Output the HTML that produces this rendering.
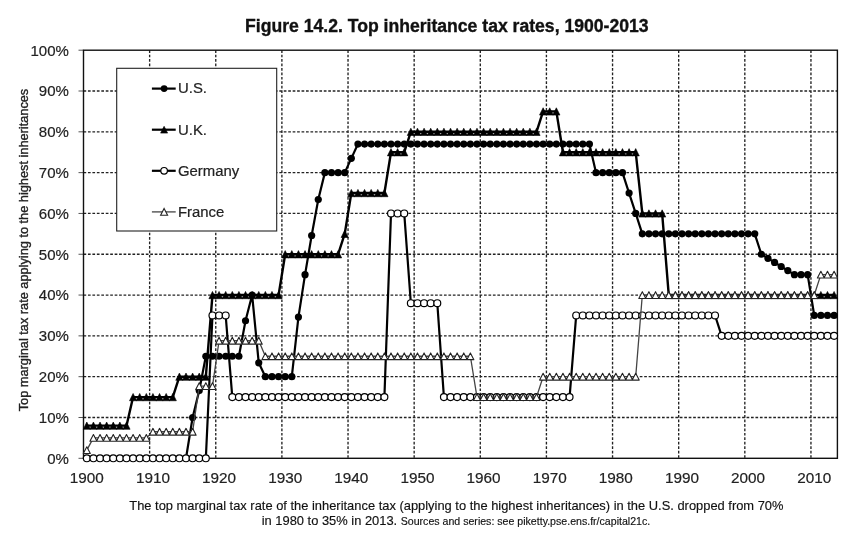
<!DOCTYPE html><html><head><meta charset="utf-8"><style>html,body{margin:0;padding:0;background:#fff;width:861px;height:540px;overflow:hidden}svg{display:block;filter:blur(0.3px)}text{font-family:"Liberation Sans",sans-serif}</style></head><body>
<svg width="861" height="540" viewBox="0 0 861 540">
<rect width="861" height="540" fill="#fff"/>
<text x="446.8" y="31.8" text-anchor="middle" font-size="17.6" font-weight="bold" fill="#111" stroke="#111" stroke-width="0.35">Figure 14.2. Top inheritance tax rates, 1900-2013</text>
<path d="M83.50 417.49H837.40 M83.50 376.68H837.40 M83.50 335.87H837.40 M83.50 295.06H837.40 M83.50 254.25H837.40 M83.50 213.44H837.40 M83.50 172.63H837.40 M83.50 131.82H837.40 M83.50 91.01H837.40 M149.63 50.20V458.30 M215.76 50.20V458.30 M281.89 50.20V458.30 M348.03 50.20V458.30 M414.16 50.20V458.30 M480.29 50.20V458.30 M546.42 50.20V458.30 M612.55 50.20V458.30 M678.68 50.20V458.30 M744.82 50.20V458.30 M810.95 50.20V458.30" stroke="#222" stroke-width="1.35" stroke-dasharray="2.7 1.75" fill="none"/>
<path d="M78.5 458.30H83.50 M78.5 417.49H83.50 M78.5 376.68H83.50 M78.5 335.87H83.50 M78.5 295.06H83.50 M78.5 254.25H83.50 M78.5 213.44H83.50 M78.5 172.63H83.50 M78.5 131.82H83.50 M78.5 91.01H83.50 M78.5 50.20H83.50" stroke="#555" stroke-width="1" fill="none"/>
<rect x="83.50" y="50.20" width="753.90" height="408.10" fill="none" stroke="#111" stroke-width="1.4"/>
<text x="68.9" y="463.70" text-anchor="end" font-size="15" fill="#222" stroke="#222" stroke-width="0.2">0%</text>
<text x="68.9" y="422.89" text-anchor="end" font-size="15" fill="#222" stroke="#222" stroke-width="0.2">10%</text>
<text x="68.9" y="382.08" text-anchor="end" font-size="15" fill="#222" stroke="#222" stroke-width="0.2">20%</text>
<text x="68.9" y="341.27" text-anchor="end" font-size="15" fill="#222" stroke="#222" stroke-width="0.2">30%</text>
<text x="68.9" y="300.46" text-anchor="end" font-size="15" fill="#222" stroke="#222" stroke-width="0.2">40%</text>
<text x="68.9" y="259.65" text-anchor="end" font-size="15" fill="#222" stroke="#222" stroke-width="0.2">50%</text>
<text x="68.9" y="218.84" text-anchor="end" font-size="15" fill="#222" stroke="#222" stroke-width="0.2">60%</text>
<text x="68.9" y="178.03" text-anchor="end" font-size="15" fill="#222" stroke="#222" stroke-width="0.2">70%</text>
<text x="68.9" y="137.22" text-anchor="end" font-size="15" fill="#222" stroke="#222" stroke-width="0.2">80%</text>
<text x="68.9" y="96.41" text-anchor="end" font-size="15" fill="#222" stroke="#222" stroke-width="0.2">90%</text>
<text x="68.9" y="55.60" text-anchor="end" font-size="15" fill="#222" stroke="#222" stroke-width="0.2">100%</text>
<text x="86.81" y="483.2" text-anchor="middle" font-size="15.3" fill="#222" stroke="#222" stroke-width="0.2">1900</text>
<text x="152.94" y="483.2" text-anchor="middle" font-size="15.3" fill="#222" stroke="#222" stroke-width="0.2">1910</text>
<text x="219.07" y="483.2" text-anchor="middle" font-size="15.3" fill="#222" stroke="#222" stroke-width="0.2">1920</text>
<text x="285.20" y="483.2" text-anchor="middle" font-size="15.3" fill="#222" stroke="#222" stroke-width="0.2">1930</text>
<text x="351.33" y="483.2" text-anchor="middle" font-size="15.3" fill="#222" stroke="#222" stroke-width="0.2">1940</text>
<text x="417.46" y="483.2" text-anchor="middle" font-size="15.3" fill="#222" stroke="#222" stroke-width="0.2">1950</text>
<text x="483.60" y="483.2" text-anchor="middle" font-size="15.3" fill="#222" stroke="#222" stroke-width="0.2">1960</text>
<text x="549.73" y="483.2" text-anchor="middle" font-size="15.3" fill="#222" stroke="#222" stroke-width="0.2">1970</text>
<text x="615.86" y="483.2" text-anchor="middle" font-size="15.3" fill="#222" stroke="#222" stroke-width="0.2">1980</text>
<text x="681.99" y="483.2" text-anchor="middle" font-size="15.3" fill="#222" stroke="#222" stroke-width="0.2">1990</text>
<text x="748.12" y="483.2" text-anchor="middle" font-size="15.3" fill="#222" stroke="#222" stroke-width="0.2">2000</text>
<text x="814.25" y="483.2" text-anchor="middle" font-size="15.3" fill="#222" stroke="#222" stroke-width="0.2">2010</text>
<text transform="translate(28.2 250) rotate(-90)" text-anchor="middle" font-size="12.75" fill="#222" stroke="#222" stroke-width="0.35">Top marginal tax rate applying to the highest inheritances</text>
<g fill="none" stroke-linejoin="round">
<polyline points="86.81,458.30 93.42,458.30 100.03,458.30 106.65,458.30 113.26,458.30 119.87,458.30 126.49,458.30 133.10,458.30 139.71,458.30 146.32,458.30 152.94,458.30 159.55,458.30 166.16,458.30 172.78,458.30 179.39,458.30 186.00,458.30 192.62,417.49 199.23,390.56 205.84,356.27 212.46,356.27 219.07,356.27 225.68,356.27 232.30,356.27 238.91,356.27 245.52,320.77 252.14,295.06 258.75,362.80 265.36,376.68 271.98,376.68 278.59,376.68 285.20,376.68 291.81,376.68 298.43,317.10 305.04,274.65 311.65,235.48 318.27,199.56 324.88,172.63 331.49,172.63 338.11,172.63 344.72,172.63 351.33,158.35 357.95,144.06 364.56,144.06 371.17,144.06 377.79,144.06 384.40,144.06 391.01,144.06 397.62,144.06 404.24,144.06 410.85,144.06 417.46,144.06 424.08,144.06 430.69,144.06 437.30,144.06 443.92,144.06 450.53,144.06 457.14,144.06 463.76,144.06 470.37,144.06 476.98,144.06 483.60,144.06 490.21,144.06 496.82,144.06 503.44,144.06 510.05,144.06 516.66,144.06 523.27,144.06 529.89,144.06 536.50,144.06 543.11,144.06 549.73,144.06 556.34,144.06 562.95,144.06 569.57,144.06 576.18,144.06 582.79,144.06 589.41,144.06 596.02,172.63 602.63,172.63 609.25,172.63 615.86,172.63 622.47,172.63 629.09,193.04 635.70,213.44 642.31,233.84 648.92,233.84 655.54,233.84 662.15,233.84 668.76,233.84 675.38,233.84 681.99,233.84 688.60,233.84 695.22,233.84 701.83,233.84 708.44,233.84 715.06,233.84 721.67,233.84 728.28,233.84 734.90,233.84 741.51,233.84 748.12,233.84 754.74,233.84 761.35,254.25 767.96,258.33 774.58,262.41 781.19,266.49 787.80,270.57 794.41,274.65 801.03,274.65 807.64,274.65 814.25,315.47 820.87,315.47 827.48,315.47 834.09,315.47" stroke="#000" stroke-width="2.2"/>
<circle cx="192.62" cy="417.49" r="3.6" fill="#000"/>
<circle cx="199.23" cy="390.56" r="3.6" fill="#000"/>
<circle cx="205.84" cy="356.27" r="3.6" fill="#000"/>
<circle cx="212.46" cy="356.27" r="3.6" fill="#000"/>
<circle cx="219.07" cy="356.27" r="3.6" fill="#000"/>
<circle cx="225.68" cy="356.27" r="3.6" fill="#000"/>
<circle cx="232.30" cy="356.27" r="3.6" fill="#000"/>
<circle cx="238.91" cy="356.27" r="3.6" fill="#000"/>
<circle cx="245.52" cy="320.77" r="3.6" fill="#000"/>
<circle cx="252.14" cy="295.06" r="3.6" fill="#000"/>
<circle cx="258.75" cy="362.80" r="3.6" fill="#000"/>
<circle cx="265.36" cy="376.68" r="3.6" fill="#000"/>
<circle cx="271.98" cy="376.68" r="3.6" fill="#000"/>
<circle cx="278.59" cy="376.68" r="3.6" fill="#000"/>
<circle cx="285.20" cy="376.68" r="3.6" fill="#000"/>
<circle cx="291.81" cy="376.68" r="3.6" fill="#000"/>
<circle cx="298.43" cy="317.10" r="3.6" fill="#000"/>
<circle cx="305.04" cy="274.65" r="3.6" fill="#000"/>
<circle cx="311.65" cy="235.48" r="3.6" fill="#000"/>
<circle cx="318.27" cy="199.56" r="3.6" fill="#000"/>
<circle cx="324.88" cy="172.63" r="3.6" fill="#000"/>
<circle cx="331.49" cy="172.63" r="3.6" fill="#000"/>
<circle cx="338.11" cy="172.63" r="3.6" fill="#000"/>
<circle cx="344.72" cy="172.63" r="3.6" fill="#000"/>
<circle cx="351.33" cy="158.35" r="3.6" fill="#000"/>
<circle cx="357.95" cy="144.06" r="3.6" fill="#000"/>
<circle cx="364.56" cy="144.06" r="3.6" fill="#000"/>
<circle cx="371.17" cy="144.06" r="3.6" fill="#000"/>
<circle cx="377.79" cy="144.06" r="3.6" fill="#000"/>
<circle cx="384.40" cy="144.06" r="3.6" fill="#000"/>
<circle cx="391.01" cy="144.06" r="3.6" fill="#000"/>
<circle cx="397.62" cy="144.06" r="3.6" fill="#000"/>
<circle cx="404.24" cy="144.06" r="3.6" fill="#000"/>
<circle cx="410.85" cy="144.06" r="3.6" fill="#000"/>
<circle cx="417.46" cy="144.06" r="3.6" fill="#000"/>
<circle cx="424.08" cy="144.06" r="3.6" fill="#000"/>
<circle cx="430.69" cy="144.06" r="3.6" fill="#000"/>
<circle cx="437.30" cy="144.06" r="3.6" fill="#000"/>
<circle cx="443.92" cy="144.06" r="3.6" fill="#000"/>
<circle cx="450.53" cy="144.06" r="3.6" fill="#000"/>
<circle cx="457.14" cy="144.06" r="3.6" fill="#000"/>
<circle cx="463.76" cy="144.06" r="3.6" fill="#000"/>
<circle cx="470.37" cy="144.06" r="3.6" fill="#000"/>
<circle cx="476.98" cy="144.06" r="3.6" fill="#000"/>
<circle cx="483.60" cy="144.06" r="3.6" fill="#000"/>
<circle cx="490.21" cy="144.06" r="3.6" fill="#000"/>
<circle cx="496.82" cy="144.06" r="3.6" fill="#000"/>
<circle cx="503.44" cy="144.06" r="3.6" fill="#000"/>
<circle cx="510.05" cy="144.06" r="3.6" fill="#000"/>
<circle cx="516.66" cy="144.06" r="3.6" fill="#000"/>
<circle cx="523.27" cy="144.06" r="3.6" fill="#000"/>
<circle cx="529.89" cy="144.06" r="3.6" fill="#000"/>
<circle cx="536.50" cy="144.06" r="3.6" fill="#000"/>
<circle cx="543.11" cy="144.06" r="3.6" fill="#000"/>
<circle cx="549.73" cy="144.06" r="3.6" fill="#000"/>
<circle cx="556.34" cy="144.06" r="3.6" fill="#000"/>
<circle cx="562.95" cy="144.06" r="3.6" fill="#000"/>
<circle cx="569.57" cy="144.06" r="3.6" fill="#000"/>
<circle cx="576.18" cy="144.06" r="3.6" fill="#000"/>
<circle cx="582.79" cy="144.06" r="3.6" fill="#000"/>
<circle cx="589.41" cy="144.06" r="3.6" fill="#000"/>
<circle cx="596.02" cy="172.63" r="3.6" fill="#000"/>
<circle cx="602.63" cy="172.63" r="3.6" fill="#000"/>
<circle cx="609.25" cy="172.63" r="3.6" fill="#000"/>
<circle cx="615.86" cy="172.63" r="3.6" fill="#000"/>
<circle cx="622.47" cy="172.63" r="3.6" fill="#000"/>
<circle cx="629.09" cy="193.04" r="3.6" fill="#000"/>
<circle cx="635.70" cy="213.44" r="3.6" fill="#000"/>
<circle cx="642.31" cy="233.84" r="3.6" fill="#000"/>
<circle cx="648.92" cy="233.84" r="3.6" fill="#000"/>
<circle cx="655.54" cy="233.84" r="3.6" fill="#000"/>
<circle cx="662.15" cy="233.84" r="3.6" fill="#000"/>
<circle cx="668.76" cy="233.84" r="3.6" fill="#000"/>
<circle cx="675.38" cy="233.84" r="3.6" fill="#000"/>
<circle cx="681.99" cy="233.84" r="3.6" fill="#000"/>
<circle cx="688.60" cy="233.84" r="3.6" fill="#000"/>
<circle cx="695.22" cy="233.84" r="3.6" fill="#000"/>
<circle cx="701.83" cy="233.84" r="3.6" fill="#000"/>
<circle cx="708.44" cy="233.84" r="3.6" fill="#000"/>
<circle cx="715.06" cy="233.84" r="3.6" fill="#000"/>
<circle cx="721.67" cy="233.84" r="3.6" fill="#000"/>
<circle cx="728.28" cy="233.84" r="3.6" fill="#000"/>
<circle cx="734.90" cy="233.84" r="3.6" fill="#000"/>
<circle cx="741.51" cy="233.84" r="3.6" fill="#000"/>
<circle cx="748.12" cy="233.84" r="3.6" fill="#000"/>
<circle cx="754.74" cy="233.84" r="3.6" fill="#000"/>
<circle cx="761.35" cy="254.25" r="3.6" fill="#000"/>
<circle cx="767.96" cy="258.33" r="3.6" fill="#000"/>
<circle cx="774.58" cy="262.41" r="3.6" fill="#000"/>
<circle cx="781.19" cy="266.49" r="3.6" fill="#000"/>
<circle cx="787.80" cy="270.57" r="3.6" fill="#000"/>
<circle cx="794.41" cy="274.65" r="3.6" fill="#000"/>
<circle cx="801.03" cy="274.65" r="3.6" fill="#000"/>
<circle cx="807.64" cy="274.65" r="3.6" fill="#000"/>
<circle cx="814.25" cy="315.47" r="3.6" fill="#000"/>
<circle cx="820.87" cy="315.47" r="3.6" fill="#000"/>
<circle cx="827.48" cy="315.47" r="3.6" fill="#000"/>
<circle cx="834.09" cy="315.47" r="3.6" fill="#000"/>
<polyline points="86.81,425.65 93.42,425.65 100.03,425.65 106.65,425.65 113.26,425.65 119.87,425.65 126.49,425.65 133.10,397.09 139.71,397.09 146.32,397.09 152.94,397.09 159.55,397.09 166.16,397.09 172.78,397.09 179.39,376.68 186.00,376.68 192.62,376.68 199.23,376.68 205.84,376.68 212.46,295.06 219.07,295.06 225.68,295.06 232.30,295.06 238.91,295.06 245.52,295.06 252.14,295.06 258.75,295.06 265.36,295.06 271.98,295.06 278.59,295.06 285.20,254.25 291.81,254.25 298.43,254.25 305.04,254.25 311.65,254.25 318.27,254.25 324.88,254.25 331.49,254.25 338.11,254.25 344.72,233.84 351.33,193.04 357.95,193.04 364.56,193.04 371.17,193.04 377.79,193.04 384.40,193.04 391.01,152.23 397.62,152.23 404.24,152.23 410.85,131.82 417.46,131.82 424.08,131.82 430.69,131.82 437.30,131.82 443.92,131.82 450.53,131.82 457.14,131.82 463.76,131.82 470.37,131.82 476.98,131.82 483.60,131.82 490.21,131.82 496.82,131.82 503.44,131.82 510.05,131.82 516.66,131.82 523.27,131.82 529.89,131.82 536.50,131.82 543.11,111.42 549.73,111.42 556.34,111.42 562.95,152.23 569.57,152.23 576.18,152.23 582.79,152.23 589.41,152.23 596.02,152.23 602.63,152.23 609.25,152.23 615.86,152.23 622.47,152.23 629.09,152.23 635.70,152.23 642.31,213.44 648.92,213.44 655.54,213.44 662.15,213.44 668.76,295.06 675.38,295.06 681.99,295.06 688.60,295.06 695.22,295.06 701.83,295.06 708.44,295.06 715.06,295.06 721.67,295.06 728.28,295.06 734.90,295.06 741.51,295.06 748.12,295.06 754.74,295.06 761.35,295.06 767.96,295.06 774.58,295.06 781.19,295.06 787.80,295.06 794.41,295.06 801.03,295.06 807.64,295.06 814.25,295.06 820.87,295.06 827.48,295.06 834.09,295.06" stroke="#000" stroke-width="2.4"/>
<path d="M86.81 422.00L90.41 429.30L83.21 429.30Z M93.42 422.00L97.02 429.30L89.82 429.30Z M100.03 422.00L103.63 429.30L96.43 429.30Z M106.65 422.00L110.25 429.30L103.05 429.30Z M113.26 422.00L116.86 429.30L109.66 429.30Z M119.87 422.00L123.47 429.30L116.27 429.30Z M126.49 422.00L130.09 429.30L122.89 429.30Z M133.10 393.44L136.70 400.74L129.50 400.74Z M139.71 393.44L143.31 400.74L136.11 400.74Z M146.32 393.44L149.92 400.74L142.72 400.74Z M152.94 393.44L156.54 400.74L149.34 400.74Z M159.55 393.44L163.15 400.74L155.95 400.74Z M166.16 393.44L169.76 400.74L162.56 400.74Z M172.78 393.44L176.38 400.74L169.18 400.74Z M179.39 373.03L182.99 380.33L175.79 380.33Z M186.00 373.03L189.60 380.33L182.40 380.33Z M192.62 373.03L196.22 380.33L189.02 380.33Z M199.23 373.03L202.83 380.33L195.63 380.33Z M205.84 373.03L209.44 380.33L202.24 380.33Z M212.46 291.41L216.06 298.71L208.86 298.71Z M219.07 291.41L222.67 298.71L215.47 298.71Z M225.68 291.41L229.28 298.71L222.08 298.71Z M232.30 291.41L235.90 298.71L228.70 298.71Z M238.91 291.41L242.51 298.71L235.31 298.71Z M245.52 291.41L249.12 298.71L241.92 298.71Z M252.14 291.41L255.74 298.71L248.54 298.71Z M258.75 291.41L262.35 298.71L255.15 298.71Z M265.36 291.41L268.96 298.71L261.76 298.71Z M271.98 291.41L275.58 298.71L268.38 298.71Z M278.59 291.41L282.19 298.71L274.99 298.71Z M285.20 250.60L288.80 257.90L281.60 257.90Z M291.81 250.60L295.41 257.90L288.21 257.90Z M298.43 250.60L302.03 257.90L294.83 257.90Z M305.04 250.60L308.64 257.90L301.44 257.90Z M311.65 250.60L315.25 257.90L308.05 257.90Z M318.27 250.60L321.87 257.90L314.67 257.90Z M324.88 250.60L328.48 257.90L321.28 257.90Z M331.49 250.60L335.09 257.90L327.89 257.90Z M338.11 250.60L341.71 257.90L334.51 257.90Z M344.72 230.19L348.32 237.50L341.12 237.50Z M351.33 189.39L354.93 196.69L347.73 196.69Z M357.95 189.39L361.55 196.69L354.35 196.69Z M364.56 189.39L368.16 196.69L360.96 196.69Z M371.17 189.39L374.77 196.69L367.57 196.69Z M377.79 189.39L381.39 196.69L374.19 196.69Z M384.40 189.39L388.00 196.69L380.80 196.69Z M391.01 148.58L394.61 155.88L387.41 155.88Z M397.62 148.58L401.23 155.88L394.02 155.88Z M404.24 148.58L407.84 155.88L400.64 155.88Z M410.85 128.17L414.45 135.47L407.25 135.47Z M417.46 128.17L421.06 135.47L413.86 135.47Z M424.08 128.17L427.68 135.47L420.48 135.47Z M430.69 128.17L434.29 135.47L427.09 135.47Z M437.30 128.17L440.90 135.47L433.70 135.47Z M443.92 128.17L447.52 135.47L440.32 135.47Z M450.53 128.17L454.13 135.47L446.93 135.47Z M457.14 128.17L460.74 135.47L453.54 135.47Z M463.76 128.17L467.36 135.47L460.16 135.47Z M470.37 128.17L473.97 135.47L466.77 135.47Z M476.98 128.17L480.58 135.47L473.38 135.47Z M483.60 128.17L487.20 135.47L480.00 135.47Z M490.21 128.17L493.81 135.47L486.61 135.47Z M496.82 128.17L500.42 135.47L493.22 135.47Z M503.44 128.17L507.04 135.47L499.84 135.47Z M510.05 128.17L513.65 135.47L506.45 135.47Z M516.66 128.17L520.26 135.47L513.06 135.47Z M523.27 128.17L526.88 135.47L519.67 135.47Z M529.89 128.17L533.49 135.47L526.29 135.47Z M536.50 128.17L540.10 135.47L532.90 135.47Z M543.11 107.77L546.71 115.07L539.51 115.07Z M549.73 107.77L553.33 115.07L546.13 115.07Z M556.34 107.77L559.94 115.07L552.74 115.07Z M562.95 148.58L566.55 155.88L559.35 155.88Z M569.57 148.58L573.17 155.88L565.97 155.88Z M576.18 148.58L579.78 155.88L572.58 155.88Z M582.79 148.58L586.39 155.88L579.19 155.88Z M589.41 148.58L593.01 155.88L585.81 155.88Z M596.02 148.58L599.62 155.88L592.42 155.88Z M602.63 148.58L606.23 155.88L599.03 155.88Z M609.25 148.58L612.85 155.88L605.65 155.88Z M615.86 148.58L619.46 155.88L612.26 155.88Z M622.47 148.58L626.07 155.88L618.87 155.88Z M629.09 148.58L632.69 155.88L625.49 155.88Z M635.70 148.58L639.30 155.88L632.10 155.88Z M642.31 209.79L645.91 217.09L638.71 217.09Z M648.92 209.79L652.52 217.09L645.32 217.09Z M655.54 209.79L659.14 217.09L651.94 217.09Z M662.15 209.79L665.75 217.09L658.55 217.09Z M668.76 291.41L672.36 298.71L665.16 298.71Z M675.38 291.41L678.98 298.71L671.78 298.71Z M681.99 291.41L685.59 298.71L678.39 298.71Z M688.60 291.41L692.20 298.71L685.00 298.71Z M695.22 291.41L698.82 298.71L691.62 298.71Z M701.83 291.41L705.43 298.71L698.23 298.71Z M708.44 291.41L712.04 298.71L704.84 298.71Z M715.06 291.41L718.66 298.71L711.46 298.71Z M721.67 291.41L725.27 298.71L718.07 298.71Z M728.28 291.41L731.88 298.71L724.68 298.71Z M734.90 291.41L738.50 298.71L731.30 298.71Z M741.51 291.41L745.11 298.71L737.91 298.71Z M748.12 291.41L751.72 298.71L744.52 298.71Z M754.74 291.41L758.34 298.71L751.14 298.71Z M761.35 291.41L764.95 298.71L757.75 298.71Z M767.96 291.41L771.56 298.71L764.36 298.71Z M774.58 291.41L778.18 298.71L770.98 298.71Z M781.19 291.41L784.79 298.71L777.59 298.71Z M787.80 291.41L791.40 298.71L784.20 298.71Z M794.41 291.41L798.01 298.71L790.81 298.71Z M801.03 291.41L804.63 298.71L797.43 298.71Z M807.64 291.41L811.24 298.71L804.04 298.71Z M814.25 291.41L817.85 298.71L810.65 298.71Z M820.87 291.41L824.47 298.71L817.27 298.71Z M827.48 291.41L831.08 298.71L823.88 298.71Z M834.09 291.41L837.69 298.71L830.49 298.71Z" fill="#000" stroke="#000" stroke-width="0.6"/>
<polyline points="86.81,458.30 93.42,458.30 100.03,458.30 106.65,458.30 113.26,458.30 119.87,458.30 126.49,458.30 133.10,458.30 139.71,458.30 146.32,458.30 152.94,458.30 159.55,458.30 166.16,458.30 172.78,458.30 179.39,458.30 186.00,458.30 192.62,458.30 199.23,458.30 205.84,458.30 212.46,315.47 219.07,315.47 225.68,315.47 232.30,397.09 238.91,397.09 245.52,397.09 252.14,397.09 258.75,397.09 265.36,397.09 271.98,397.09 278.59,397.09 285.20,397.09 291.81,397.09 298.43,397.09 305.04,397.09 311.65,397.09 318.27,397.09 324.88,397.09 331.49,397.09 338.11,397.09 344.72,397.09 351.33,397.09 357.95,397.09 364.56,397.09 371.17,397.09 377.79,397.09 384.40,397.09 391.01,213.44 397.62,213.44 404.24,213.44 410.85,303.22 417.46,303.22 424.08,303.22 430.69,303.22 437.30,303.22 443.92,397.09 450.53,397.09 457.14,397.09 463.76,397.09 470.37,397.09 476.98,397.09 483.60,397.09 490.21,397.09 496.82,397.09 503.44,397.09 510.05,397.09 516.66,397.09 523.27,397.09 529.89,397.09 536.50,397.09 543.11,397.09 549.73,397.09 556.34,397.09 562.95,397.09 569.57,397.09 576.18,315.47 582.79,315.47 589.41,315.47 596.02,315.47 602.63,315.47 609.25,315.47 615.86,315.47 622.47,315.47 629.09,315.47 635.70,315.47 642.31,315.47 648.92,315.47 655.54,315.47 662.15,315.47 668.76,315.47 675.38,315.47 681.99,315.47 688.60,315.47 695.22,315.47 701.83,315.47 708.44,315.47 715.06,315.47 721.67,335.87 728.28,335.87 734.90,335.87 741.51,335.87 748.12,335.87 754.74,335.87 761.35,335.87 767.96,335.87 774.58,335.87 781.19,335.87 787.80,335.87 794.41,335.87 801.03,335.87 807.64,335.87 814.25,335.87 820.87,335.87 827.48,335.87 834.09,335.87" stroke="#000" stroke-width="2.2"/>
<circle cx="86.81" cy="458.30" r="3.45" fill="#fff" stroke="#000" stroke-width="1.2"/>
<circle cx="93.42" cy="458.30" r="3.45" fill="#fff" stroke="#000" stroke-width="1.2"/>
<circle cx="100.03" cy="458.30" r="3.45" fill="#fff" stroke="#000" stroke-width="1.2"/>
<circle cx="106.65" cy="458.30" r="3.45" fill="#fff" stroke="#000" stroke-width="1.2"/>
<circle cx="113.26" cy="458.30" r="3.45" fill="#fff" stroke="#000" stroke-width="1.2"/>
<circle cx="119.87" cy="458.30" r="3.45" fill="#fff" stroke="#000" stroke-width="1.2"/>
<circle cx="126.49" cy="458.30" r="3.45" fill="#fff" stroke="#000" stroke-width="1.2"/>
<circle cx="133.10" cy="458.30" r="3.45" fill="#fff" stroke="#000" stroke-width="1.2"/>
<circle cx="139.71" cy="458.30" r="3.45" fill="#fff" stroke="#000" stroke-width="1.2"/>
<circle cx="146.32" cy="458.30" r="3.45" fill="#fff" stroke="#000" stroke-width="1.2"/>
<circle cx="152.94" cy="458.30" r="3.45" fill="#fff" stroke="#000" stroke-width="1.2"/>
<circle cx="159.55" cy="458.30" r="3.45" fill="#fff" stroke="#000" stroke-width="1.2"/>
<circle cx="166.16" cy="458.30" r="3.45" fill="#fff" stroke="#000" stroke-width="1.2"/>
<circle cx="172.78" cy="458.30" r="3.45" fill="#fff" stroke="#000" stroke-width="1.2"/>
<circle cx="179.39" cy="458.30" r="3.45" fill="#fff" stroke="#000" stroke-width="1.2"/>
<circle cx="186.00" cy="458.30" r="3.45" fill="#fff" stroke="#000" stroke-width="1.2"/>
<circle cx="192.62" cy="458.30" r="3.45" fill="#fff" stroke="#000" stroke-width="1.2"/>
<circle cx="199.23" cy="458.30" r="3.45" fill="#fff" stroke="#000" stroke-width="1.2"/>
<circle cx="205.84" cy="458.30" r="3.45" fill="#fff" stroke="#000" stroke-width="1.2"/>
<circle cx="212.46" cy="315.47" r="3.45" fill="#fff" stroke="#000" stroke-width="1.2"/>
<circle cx="219.07" cy="315.47" r="3.45" fill="#fff" stroke="#000" stroke-width="1.2"/>
<circle cx="225.68" cy="315.47" r="3.45" fill="#fff" stroke="#000" stroke-width="1.2"/>
<circle cx="232.30" cy="397.09" r="3.45" fill="#fff" stroke="#000" stroke-width="1.2"/>
<circle cx="238.91" cy="397.09" r="3.45" fill="#fff" stroke="#000" stroke-width="1.2"/>
<circle cx="245.52" cy="397.09" r="3.45" fill="#fff" stroke="#000" stroke-width="1.2"/>
<circle cx="252.14" cy="397.09" r="3.45" fill="#fff" stroke="#000" stroke-width="1.2"/>
<circle cx="258.75" cy="397.09" r="3.45" fill="#fff" stroke="#000" stroke-width="1.2"/>
<circle cx="265.36" cy="397.09" r="3.45" fill="#fff" stroke="#000" stroke-width="1.2"/>
<circle cx="271.98" cy="397.09" r="3.45" fill="#fff" stroke="#000" stroke-width="1.2"/>
<circle cx="278.59" cy="397.09" r="3.45" fill="#fff" stroke="#000" stroke-width="1.2"/>
<circle cx="285.20" cy="397.09" r="3.45" fill="#fff" stroke="#000" stroke-width="1.2"/>
<circle cx="291.81" cy="397.09" r="3.45" fill="#fff" stroke="#000" stroke-width="1.2"/>
<circle cx="298.43" cy="397.09" r="3.45" fill="#fff" stroke="#000" stroke-width="1.2"/>
<circle cx="305.04" cy="397.09" r="3.45" fill="#fff" stroke="#000" stroke-width="1.2"/>
<circle cx="311.65" cy="397.09" r="3.45" fill="#fff" stroke="#000" stroke-width="1.2"/>
<circle cx="318.27" cy="397.09" r="3.45" fill="#fff" stroke="#000" stroke-width="1.2"/>
<circle cx="324.88" cy="397.09" r="3.45" fill="#fff" stroke="#000" stroke-width="1.2"/>
<circle cx="331.49" cy="397.09" r="3.45" fill="#fff" stroke="#000" stroke-width="1.2"/>
<circle cx="338.11" cy="397.09" r="3.45" fill="#fff" stroke="#000" stroke-width="1.2"/>
<circle cx="344.72" cy="397.09" r="3.45" fill="#fff" stroke="#000" stroke-width="1.2"/>
<circle cx="351.33" cy="397.09" r="3.45" fill="#fff" stroke="#000" stroke-width="1.2"/>
<circle cx="357.95" cy="397.09" r="3.45" fill="#fff" stroke="#000" stroke-width="1.2"/>
<circle cx="364.56" cy="397.09" r="3.45" fill="#fff" stroke="#000" stroke-width="1.2"/>
<circle cx="371.17" cy="397.09" r="3.45" fill="#fff" stroke="#000" stroke-width="1.2"/>
<circle cx="377.79" cy="397.09" r="3.45" fill="#fff" stroke="#000" stroke-width="1.2"/>
<circle cx="384.40" cy="397.09" r="3.45" fill="#fff" stroke="#000" stroke-width="1.2"/>
<circle cx="391.01" cy="213.44" r="3.45" fill="#fff" stroke="#000" stroke-width="1.2"/>
<circle cx="397.62" cy="213.44" r="3.45" fill="#fff" stroke="#000" stroke-width="1.2"/>
<circle cx="404.24" cy="213.44" r="3.45" fill="#fff" stroke="#000" stroke-width="1.2"/>
<circle cx="410.85" cy="303.22" r="3.45" fill="#fff" stroke="#000" stroke-width="1.2"/>
<circle cx="417.46" cy="303.22" r="3.45" fill="#fff" stroke="#000" stroke-width="1.2"/>
<circle cx="424.08" cy="303.22" r="3.45" fill="#fff" stroke="#000" stroke-width="1.2"/>
<circle cx="430.69" cy="303.22" r="3.45" fill="#fff" stroke="#000" stroke-width="1.2"/>
<circle cx="437.30" cy="303.22" r="3.45" fill="#fff" stroke="#000" stroke-width="1.2"/>
<circle cx="443.92" cy="397.09" r="3.45" fill="#fff" stroke="#000" stroke-width="1.2"/>
<circle cx="450.53" cy="397.09" r="3.45" fill="#fff" stroke="#000" stroke-width="1.2"/>
<circle cx="457.14" cy="397.09" r="3.45" fill="#fff" stroke="#000" stroke-width="1.2"/>
<circle cx="463.76" cy="397.09" r="3.45" fill="#fff" stroke="#000" stroke-width="1.2"/>
<circle cx="470.37" cy="397.09" r="3.45" fill="#fff" stroke="#000" stroke-width="1.2"/>
<circle cx="476.98" cy="397.09" r="3.45" fill="#fff" stroke="#000" stroke-width="1.2"/>
<circle cx="483.60" cy="397.09" r="3.45" fill="#fff" stroke="#000" stroke-width="1.2"/>
<circle cx="490.21" cy="397.09" r="3.45" fill="#fff" stroke="#000" stroke-width="1.2"/>
<circle cx="496.82" cy="397.09" r="3.45" fill="#fff" stroke="#000" stroke-width="1.2"/>
<circle cx="503.44" cy="397.09" r="3.45" fill="#fff" stroke="#000" stroke-width="1.2"/>
<circle cx="510.05" cy="397.09" r="3.45" fill="#fff" stroke="#000" stroke-width="1.2"/>
<circle cx="516.66" cy="397.09" r="3.45" fill="#fff" stroke="#000" stroke-width="1.2"/>
<circle cx="523.27" cy="397.09" r="3.45" fill="#fff" stroke="#000" stroke-width="1.2"/>
<circle cx="529.89" cy="397.09" r="3.45" fill="#fff" stroke="#000" stroke-width="1.2"/>
<circle cx="536.50" cy="397.09" r="3.45" fill="#fff" stroke="#000" stroke-width="1.2"/>
<circle cx="543.11" cy="397.09" r="3.45" fill="#fff" stroke="#000" stroke-width="1.2"/>
<circle cx="549.73" cy="397.09" r="3.45" fill="#fff" stroke="#000" stroke-width="1.2"/>
<circle cx="556.34" cy="397.09" r="3.45" fill="#fff" stroke="#000" stroke-width="1.2"/>
<circle cx="562.95" cy="397.09" r="3.45" fill="#fff" stroke="#000" stroke-width="1.2"/>
<circle cx="569.57" cy="397.09" r="3.45" fill="#fff" stroke="#000" stroke-width="1.2"/>
<circle cx="576.18" cy="315.47" r="3.45" fill="#fff" stroke="#000" stroke-width="1.2"/>
<circle cx="582.79" cy="315.47" r="3.45" fill="#fff" stroke="#000" stroke-width="1.2"/>
<circle cx="589.41" cy="315.47" r="3.45" fill="#fff" stroke="#000" stroke-width="1.2"/>
<circle cx="596.02" cy="315.47" r="3.45" fill="#fff" stroke="#000" stroke-width="1.2"/>
<circle cx="602.63" cy="315.47" r="3.45" fill="#fff" stroke="#000" stroke-width="1.2"/>
<circle cx="609.25" cy="315.47" r="3.45" fill="#fff" stroke="#000" stroke-width="1.2"/>
<circle cx="615.86" cy="315.47" r="3.45" fill="#fff" stroke="#000" stroke-width="1.2"/>
<circle cx="622.47" cy="315.47" r="3.45" fill="#fff" stroke="#000" stroke-width="1.2"/>
<circle cx="629.09" cy="315.47" r="3.45" fill="#fff" stroke="#000" stroke-width="1.2"/>
<circle cx="635.70" cy="315.47" r="3.45" fill="#fff" stroke="#000" stroke-width="1.2"/>
<circle cx="642.31" cy="315.47" r="3.45" fill="#fff" stroke="#000" stroke-width="1.2"/>
<circle cx="648.92" cy="315.47" r="3.45" fill="#fff" stroke="#000" stroke-width="1.2"/>
<circle cx="655.54" cy="315.47" r="3.45" fill="#fff" stroke="#000" stroke-width="1.2"/>
<circle cx="662.15" cy="315.47" r="3.45" fill="#fff" stroke="#000" stroke-width="1.2"/>
<circle cx="668.76" cy="315.47" r="3.45" fill="#fff" stroke="#000" stroke-width="1.2"/>
<circle cx="675.38" cy="315.47" r="3.45" fill="#fff" stroke="#000" stroke-width="1.2"/>
<circle cx="681.99" cy="315.47" r="3.45" fill="#fff" stroke="#000" stroke-width="1.2"/>
<circle cx="688.60" cy="315.47" r="3.45" fill="#fff" stroke="#000" stroke-width="1.2"/>
<circle cx="695.22" cy="315.47" r="3.45" fill="#fff" stroke="#000" stroke-width="1.2"/>
<circle cx="701.83" cy="315.47" r="3.45" fill="#fff" stroke="#000" stroke-width="1.2"/>
<circle cx="708.44" cy="315.47" r="3.45" fill="#fff" stroke="#000" stroke-width="1.2"/>
<circle cx="715.06" cy="315.47" r="3.45" fill="#fff" stroke="#000" stroke-width="1.2"/>
<circle cx="721.67" cy="335.87" r="3.45" fill="#fff" stroke="#000" stroke-width="1.2"/>
<circle cx="728.28" cy="335.87" r="3.45" fill="#fff" stroke="#000" stroke-width="1.2"/>
<circle cx="734.90" cy="335.87" r="3.45" fill="#fff" stroke="#000" stroke-width="1.2"/>
<circle cx="741.51" cy="335.87" r="3.45" fill="#fff" stroke="#000" stroke-width="1.2"/>
<circle cx="748.12" cy="335.87" r="3.45" fill="#fff" stroke="#000" stroke-width="1.2"/>
<circle cx="754.74" cy="335.87" r="3.45" fill="#fff" stroke="#000" stroke-width="1.2"/>
<circle cx="761.35" cy="335.87" r="3.45" fill="#fff" stroke="#000" stroke-width="1.2"/>
<circle cx="767.96" cy="335.87" r="3.45" fill="#fff" stroke="#000" stroke-width="1.2"/>
<circle cx="774.58" cy="335.87" r="3.45" fill="#fff" stroke="#000" stroke-width="1.2"/>
<circle cx="781.19" cy="335.87" r="3.45" fill="#fff" stroke="#000" stroke-width="1.2"/>
<circle cx="787.80" cy="335.87" r="3.45" fill="#fff" stroke="#000" stroke-width="1.2"/>
<circle cx="794.41" cy="335.87" r="3.45" fill="#fff" stroke="#000" stroke-width="1.2"/>
<circle cx="801.03" cy="335.87" r="3.45" fill="#fff" stroke="#000" stroke-width="1.2"/>
<circle cx="807.64" cy="335.87" r="3.45" fill="#fff" stroke="#000" stroke-width="1.2"/>
<circle cx="814.25" cy="335.87" r="3.45" fill="#fff" stroke="#000" stroke-width="1.2"/>
<circle cx="820.87" cy="335.87" r="3.45" fill="#fff" stroke="#000" stroke-width="1.2"/>
<circle cx="827.48" cy="335.87" r="3.45" fill="#fff" stroke="#000" stroke-width="1.2"/>
<circle cx="834.09" cy="335.87" r="3.45" fill="#fff" stroke="#000" stroke-width="1.2"/>
<polyline points="86.81,450.14 93.42,437.89 100.03,437.89 106.65,437.89 113.26,437.89 119.87,437.89 126.49,437.89 133.10,437.89 139.71,437.89 146.32,437.89 152.94,431.77 159.55,431.77 166.16,431.77 172.78,431.77 179.39,431.77 186.00,431.77 192.62,431.77 199.23,386.07 205.84,386.07 212.46,386.07 219.07,340.77 225.68,340.77 232.30,340.77 238.91,340.77 245.52,340.77 252.14,340.77 258.75,340.77 265.36,356.27 271.98,356.27 278.59,356.27 285.20,356.27 291.81,356.27 298.43,356.27 305.04,356.27 311.65,356.27 318.27,356.27 324.88,356.27 331.49,356.27 338.11,356.27 344.72,356.27 351.33,356.27 357.95,356.27 364.56,356.27 371.17,356.27 377.79,356.27 384.40,356.27 391.01,356.27 397.62,356.27 404.24,356.27 410.85,356.27 417.46,356.27 424.08,356.27 430.69,356.27 437.30,356.27 443.92,356.27 450.53,356.27 457.14,356.27 463.76,356.27 470.37,356.27 476.98,397.09 483.60,397.09 490.21,397.09 496.82,397.09 503.44,397.09 510.05,397.09 516.66,397.09 523.27,397.09 529.89,397.09 536.50,397.09 543.11,376.68 549.73,376.68 556.34,376.68 562.95,376.68 569.57,376.68 576.18,376.68 582.79,376.68 589.41,376.68 596.02,376.68 602.63,376.68 609.25,376.68 615.86,376.68 622.47,376.68 629.09,376.68 635.70,376.68 642.31,295.06 648.92,295.06 655.54,295.06 662.15,295.06 668.76,295.06 675.38,295.06 681.99,295.06 688.60,295.06 695.22,295.06 701.83,295.06 708.44,295.06 715.06,295.06 721.67,295.06 728.28,295.06 734.90,295.06 741.51,295.06 748.12,295.06 754.74,295.06 761.35,295.06 767.96,295.06 774.58,295.06 781.19,295.06 787.80,295.06 794.41,295.06 801.03,295.06 807.64,295.06 814.25,295.06 820.87,274.65 827.48,274.65 834.09,274.65" stroke="#444" stroke-width="1.3"/>
<path d="M86.81 446.74L90.31 453.54L83.31 453.54Z M93.42 434.50L96.92 441.29L89.92 441.29Z M100.03 434.50L103.53 441.29L96.53 441.29Z M106.65 434.50L110.15 441.29L103.15 441.29Z M113.26 434.50L116.76 441.29L109.76 441.29Z M119.87 434.50L123.37 441.29L116.37 441.29Z M126.49 434.50L129.99 441.29L122.99 441.29Z M133.10 434.50L136.60 441.29L129.60 441.29Z M139.71 434.50L143.21 441.29L136.21 441.29Z M146.32 434.50L149.82 441.29L142.82 441.29Z M152.94 428.37L156.44 435.17L149.44 435.17Z M159.55 428.37L163.05 435.17L156.05 435.17Z M166.16 428.37L169.66 435.17L162.66 435.17Z M172.78 428.37L176.28 435.17L169.28 435.17Z M179.39 428.37L182.89 435.17L175.89 435.17Z M186.00 428.37L189.50 435.17L182.50 435.17Z M192.62 428.37L196.12 435.17L189.12 435.17Z M199.23 382.67L202.73 389.47L195.73 389.47Z M205.84 382.67L209.34 389.47L202.34 389.47Z M212.46 382.67L215.96 389.47L208.96 389.47Z M219.07 337.37L222.57 344.17L215.57 344.17Z M225.68 337.37L229.18 344.17L222.18 344.17Z M232.30 337.37L235.80 344.17L228.80 344.17Z M238.91 337.37L242.41 344.17L235.41 344.17Z M245.52 337.37L249.02 344.17L242.02 344.17Z M252.14 337.37L255.64 344.17L248.64 344.17Z M258.75 337.37L262.25 344.17L255.25 344.17Z M265.36 352.88L268.86 359.67L261.86 359.67Z M271.98 352.88L275.48 359.67L268.48 359.67Z M278.59 352.88L282.09 359.67L275.09 359.67Z M285.20 352.88L288.70 359.67L281.70 359.67Z M291.81 352.88L295.31 359.67L288.31 359.67Z M298.43 352.88L301.93 359.67L294.93 359.67Z M305.04 352.88L308.54 359.67L301.54 359.67Z M311.65 352.88L315.15 359.67L308.15 359.67Z M318.27 352.88L321.77 359.67L314.77 359.67Z M324.88 352.88L328.38 359.67L321.38 359.67Z M331.49 352.88L334.99 359.67L327.99 359.67Z M338.11 352.88L341.61 359.67L334.61 359.67Z M344.72 352.88L348.22 359.67L341.22 359.67Z M351.33 352.88L354.83 359.67L347.83 359.67Z M357.95 352.88L361.45 359.67L354.45 359.67Z M364.56 352.88L368.06 359.67L361.06 359.67Z M371.17 352.88L374.67 359.67L367.67 359.67Z M377.79 352.88L381.29 359.67L374.29 359.67Z M384.40 352.88L387.90 359.67L380.90 359.67Z M391.01 352.88L394.51 359.67L387.51 359.67Z M397.62 352.88L401.12 359.67L394.12 359.67Z M404.24 352.88L407.74 359.67L400.74 359.67Z M410.85 352.88L414.35 359.67L407.35 359.67Z M417.46 352.88L420.96 359.67L413.96 359.67Z M424.08 352.88L427.58 359.67L420.58 359.67Z M430.69 352.88L434.19 359.67L427.19 359.67Z M437.30 352.88L440.80 359.67L433.80 359.67Z M443.92 352.88L447.42 359.67L440.42 359.67Z M450.53 352.88L454.03 359.67L447.03 359.67Z M457.14 352.88L460.64 359.67L453.64 359.67Z M463.76 352.88L467.26 359.67L460.26 359.67Z M470.37 352.88L473.87 359.67L466.87 359.67Z M476.98 393.69L480.48 400.49L473.48 400.49Z M483.60 393.69L487.10 400.49L480.10 400.49Z M490.21 393.69L493.71 400.49L486.71 400.49Z M496.82 393.69L500.32 400.49L493.32 400.49Z M503.44 393.69L506.94 400.49L499.94 400.49Z M510.05 393.69L513.55 400.49L506.55 400.49Z M516.66 393.69L520.16 400.49L513.16 400.49Z M523.27 393.69L526.77 400.49L519.77 400.49Z M529.89 393.69L533.39 400.49L526.39 400.49Z M536.50 393.69L540.00 400.49L533.00 400.49Z M543.11 373.28L546.61 380.08L539.61 380.08Z M549.73 373.28L553.23 380.08L546.23 380.08Z M556.34 373.28L559.84 380.08L552.84 380.08Z M562.95 373.28L566.45 380.08L559.45 380.08Z M569.57 373.28L573.07 380.08L566.07 380.08Z M576.18 373.28L579.68 380.08L572.68 380.08Z M582.79 373.28L586.29 380.08L579.29 380.08Z M589.41 373.28L592.91 380.08L585.91 380.08Z M596.02 373.28L599.52 380.08L592.52 380.08Z M602.63 373.28L606.13 380.08L599.13 380.08Z M609.25 373.28L612.75 380.08L605.75 380.08Z M615.86 373.28L619.36 380.08L612.36 380.08Z M622.47 373.28L625.97 380.08L618.97 380.08Z M629.09 373.28L632.59 380.08L625.59 380.08Z M635.70 373.28L639.20 380.08L632.20 380.08Z M642.31 291.66L645.81 298.46L638.81 298.46Z M648.92 291.66L652.42 298.46L645.42 298.46Z M655.54 291.66L659.04 298.46L652.04 298.46Z M662.15 291.66L665.65 298.46L658.65 298.46Z M668.76 291.66L672.26 298.46L665.26 298.46Z M675.38 291.66L678.88 298.46L671.88 298.46Z M681.99 291.66L685.49 298.46L678.49 298.46Z M688.60 291.66L692.10 298.46L685.10 298.46Z M695.22 291.66L698.72 298.46L691.72 298.46Z M701.83 291.66L705.33 298.46L698.33 298.46Z M708.44 291.66L711.94 298.46L704.94 298.46Z M715.06 291.66L718.56 298.46L711.56 298.46Z M721.67 291.66L725.17 298.46L718.17 298.46Z M728.28 291.66L731.78 298.46L724.78 298.46Z M734.90 291.66L738.40 298.46L731.40 298.46Z M741.51 291.66L745.01 298.46L738.01 298.46Z M748.12 291.66L751.62 298.46L744.62 298.46Z M754.74 291.66L758.24 298.46L751.24 298.46Z M761.35 291.66L764.85 298.46L757.85 298.46Z M767.96 291.66L771.46 298.46L764.46 298.46Z M774.58 291.66L778.08 298.46L771.08 298.46Z M781.19 291.66L784.69 298.46L777.69 298.46Z M787.80 291.66L791.30 298.46L784.30 298.46Z M794.41 291.66L797.91 298.46L790.91 298.46Z M801.03 291.66L804.53 298.46L797.53 298.46Z M807.64 291.66L811.14 298.46L804.14 298.46Z M814.25 291.66L817.75 298.46L810.75 298.46Z M820.87 271.25L824.37 278.05L817.37 278.05Z M827.48 271.25L830.98 278.05L823.98 278.05Z M834.09 271.25L837.59 278.05L830.59 278.05Z" fill="#fff" stroke="#222" stroke-width="1.1"/>
</g>
<rect x="116.7" y="68.3" width="160" height="162.7" fill="#fff" stroke="#222" stroke-width="1.1"/>
<path d="M151.9 88.60H175.7" stroke="#000" stroke-width="2.2"/>
<circle cx="164.1" cy="88.60" r="3.4" fill="#000"/>
<text x="178.0" y="93.40" font-size="14.9" fill="#222" stroke="#222" stroke-width="0.2">U.S.</text>
<path d="M151.9 129.70H175.7" stroke="#000" stroke-width="2.2"/>
<path d="M164.10 126.30L167.60 133.10L160.60 133.10Z" fill="#000" stroke="#000" stroke-width="0.6"/>
<text x="178.0" y="134.50" font-size="14.9" fill="#222" stroke="#222" stroke-width="0.2">U.K.</text>
<path d="M151.9 170.80H175.7" stroke="#000" stroke-width="2.2"/>
<circle cx="164.1" cy="170.80" r="3.3" fill="#fff" stroke="#000" stroke-width="1.2"/>
<text x="178.0" y="175.60" font-size="14.9" fill="#222" stroke="#222" stroke-width="0.2">Germany</text>
<path d="M151.9 211.90H175.7" stroke="#444" stroke-width="1.3"/>
<path d="M164.10 208.50L167.60 215.30L160.60 215.30Z" fill="#fff" stroke="#222" stroke-width="1.1"/>
<text x="178.0" y="216.70" font-size="14.9" fill="#222" stroke="#222" stroke-width="0.2">France</text>
<text x="456.4" y="509.8" text-anchor="middle" font-size="12.9" fill="#111" stroke="#111" stroke-width="0.15">The top marginal tax rate of the inheritance tax (applying to the highest inheritances) in the U.S. dropped from 70%</text>
<text x="261.7" y="524.8" font-size="12.9" fill="#111" stroke="#111" stroke-width="0.15">in 1980 to 35% in 2013. <tspan font-size="10.6">Sources and series: see piketty.pse.ens.fr/capital21c.</tspan></text>
</svg></body></html>
